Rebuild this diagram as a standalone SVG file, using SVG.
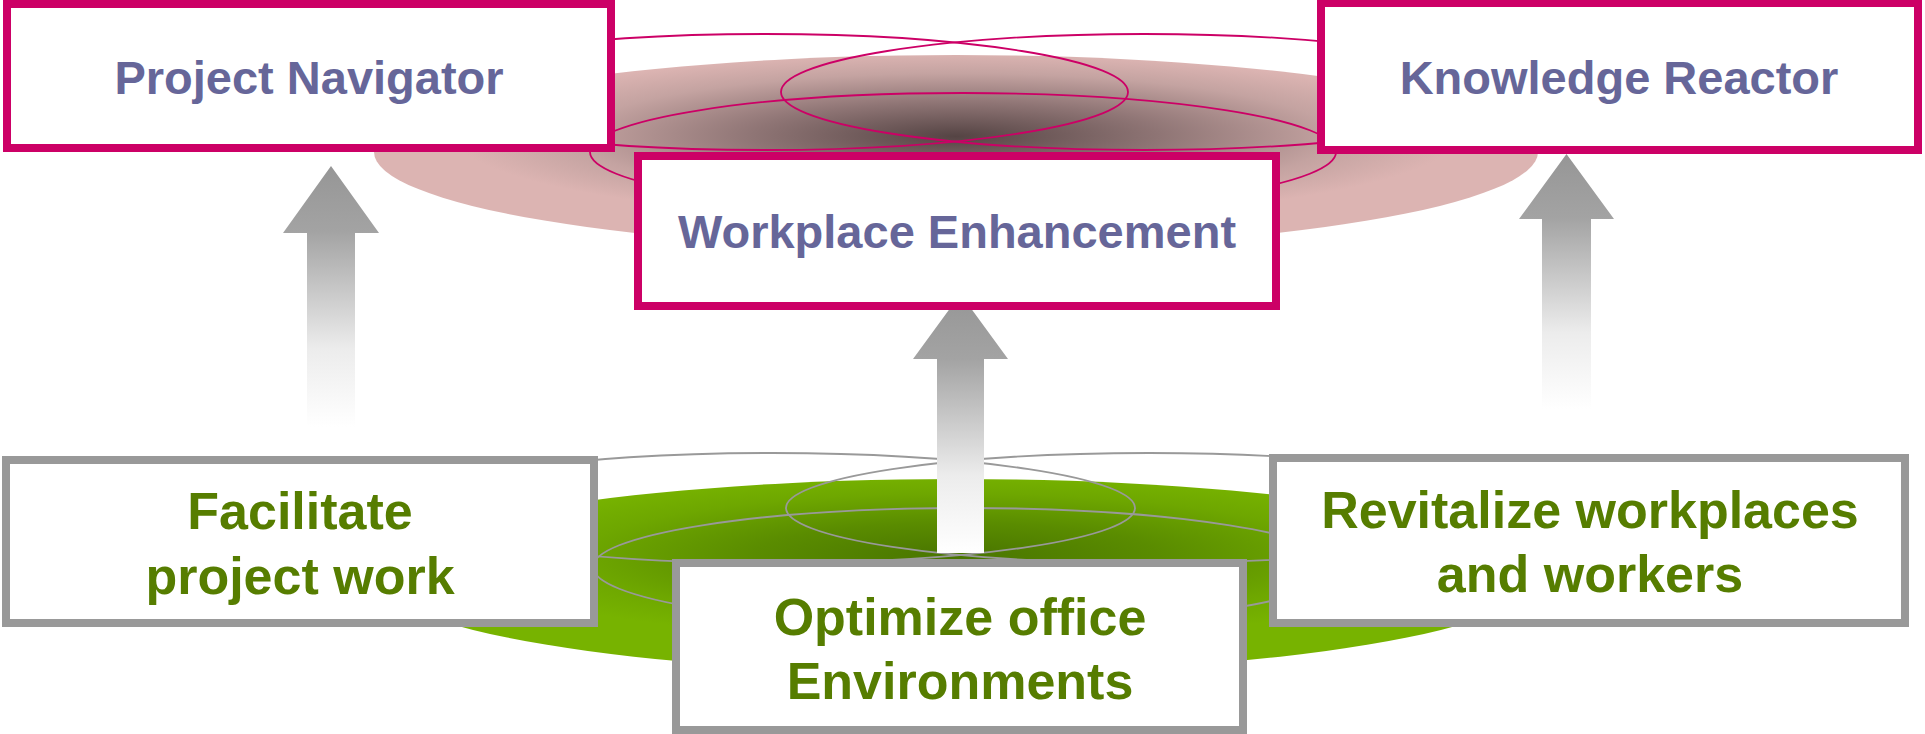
<svg xmlns="http://www.w3.org/2000/svg" width="1925" height="734" viewBox="0 0 1925 734">
  <style>
    .pbox { fill: #ffffff; stroke: #cc0066; stroke-width: 8; }
    .gbox { fill: #ffffff; stroke: #999999; stroke-width: 8; }
    .ptxt { font-family: "Liberation Sans", Arial, sans-serif; font-weight: bold; font-size: 47px; fill: #666699; text-anchor: middle; }
    .gtxt { font-family: "Liberation Sans", Arial, sans-serif; font-weight: bold; font-size: 52px; fill: #567d00; text-anchor: middle; }
    .pring { fill: none; stroke: #cc0066; stroke-width: 1.8; }
    .gring { fill: none; stroke: #999999; stroke-width: 1.8; }
    .arrow { fill: url(#arrowGrad); }
  </style>
  <defs>
    <radialGradient id="pinkGrad" cx="0.5" cy="0.42" r="0.5">
      <stop offset="0" stop-color="#554444"/>
      <stop offset="0.35" stop-color="#8f7575"/>
      <stop offset="0.65" stop-color="#c4a3a1"/>
      <stop offset="0.86" stop-color="#dcb4b2"/>
      <stop offset="1" stop-color="#dcb4b2"/>
    </radialGradient>
    <radialGradient id="greenGrad" cx="0.5" cy="0.4" r="0.5">
      <stop offset="0" stop-color="#497500"/>
      <stop offset="0.35" stop-color="#5a8c00"/>
      <stop offset="0.65" stop-color="#6ea700"/>
      <stop offset="0.86" stop-color="#77b300"/>
      <stop offset="1" stop-color="#77b300"/>
    </radialGradient>
    <linearGradient id="arrowGrad" x1="0" y1="0" x2="0" y2="1">
      <stop offset="0" stop-color="#969696"/>
      <stop offset="0.25" stop-color="#a3a3a3"/>
      <stop offset="0.7" stop-color="#ececec"/>
      <stop offset="1" stop-color="#ffffff"/>
    </linearGradient>
  </defs>

  <g id="background">
    <ellipse id="pink-disk" cx="956" cy="152" rx="582" ry="97" fill="url(#pinkGrad)"/>
    <ellipse class="pring" cx="765" cy="92" rx="363" ry="58"/>
    <ellipse class="pring" cx="1144" cy="92" rx="363" ry="58"/>
    <ellipse class="pring" cx="963" cy="152" rx="373" ry="59"/>
    <ellipse id="green-disk" cx="957" cy="576" rx="582" ry="97" fill="url(#greenGrad)"/>
    <ellipse class="gring" cx="772" cy="508" rx="363" ry="55"/>
    <ellipse class="gring" cx="1149" cy="508" rx="363" ry="55"/>
    <ellipse class="gring" cx="966" cy="567" rx="373" ry="59"/>
  </g>

  <g id="connectors">
    <path class="arrow" d="M331,166 L379,233 L355,233 L355,427 L307,427 L307,233 L283,233 Z"/>
    <path class="arrow" d="M1566.5,154 L1614,219 L1591,219 L1591,409 L1542,409 L1542,219 L1519,219 Z"/>
    <path class="arrow" d="M960.5,294 L1008,359 L984,359 L984,553 L937,553 L937,359 L913,359 Z"/>
  </g>

  <g id="project-navigator">
    <rect class="pbox" x="7" y="4" width="604" height="144"/>
    <text class="ptxt" x="309" y="94">Project Navigator</text>
  </g>
  <g id="knowledge-reactor">
    <rect class="pbox" x="1321" y="3" width="597" height="147"/>
    <text class="ptxt" x="1619" y="94">Knowledge Reactor</text>
  </g>
  <g id="workplace-enhancement">
    <rect class="pbox" x="638" y="156" width="638" height="150"/>
    <text class="ptxt" x="957" y="248">Workplace Enhancement</text>
  </g>
  <g id="facilitate-project-work">
    <rect class="gbox" x="6" y="460" width="588" height="163"/>
    <text class="gtxt" x="300" y="529">Facilitate</text>
    <text class="gtxt" x="300" y="594">project work</text>
  </g>
  <g id="revitalize-workplaces">
    <rect class="gbox" x="1273" y="458" width="632" height="165"/>
    <text class="gtxt" x="1590" y="528">Revitalize workplaces</text>
    <text class="gtxt" x="1590" y="592">and workers</text>
  </g>
  <g id="optimize-office">
    <rect class="gbox" x="676" y="563" width="567" height="167"/>
    <text class="gtxt" x="960" y="635">Optimize office</text>
    <text class="gtxt" x="960" y="699">Environments</text>
  </g>
</svg>
